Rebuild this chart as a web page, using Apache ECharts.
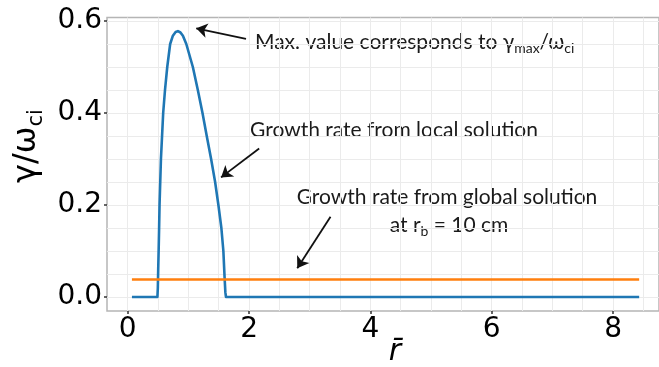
<!DOCTYPE html>
<html>
<head>
<meta charset="utf-8">
<script src="https://cdn.jsdelivr.net/npm/echarts@6/dist/echarts.min.js"></script>
<style>html,body{margin:0;padding:0;background:#fff}#c{width:659px;height:367px}</style>
</head>
<body>
<div id="c"></div>
<script>
// ---- data ----
const rLocal = [0.07, 0.49, 0.497, 0.503, 0.51, 0.518, 0.525, 0.548, 0.585, 0.615, 0.652, 0.70, 0.745, 0.79, 0.828, 0.87, 0.91, 0.966, 1.074, 1.156, 1.233, 1.303, 1.375, 1.441, 1.495, 1.544, 1.577, 1.598, 1.61, 1.62, 1.64, 8.43];
const gammaLocal = [0, 0, 0.02, 0.06, 0.1, 0.15, 0.2, 0.3, 0.4, 0.45, 0.5, 0.55, 0.568, 0.576, 0.578, 0.575, 0.568, 0.55, 0.5, 0.45, 0.4, 0.35, 0.3, 0.25, 0.2, 0.15, 0.1, 0.04, 0.01, 0, 0, 0];
const rGlobal = [0.07, 8.43];
const gammaGlobal = [0.038, 0.038];
const rTicks = [0, 2, 4, 6, 8];
const gammaTicks = [0, 0.2, 0.4, 0.6];
const rGridLines = [0, 0.5, 1, 1.5, 2, 2.5, 3, 3.5, 4, 4.5, 5, 5.5, 6, 6.5, 7, 7.5, 8, 8.5];
const gammaGridLines = [0, 0.05, 0.1, 0.15, 0.2, 0.25, 0.3, 0.35, 0.4, 0.45, 0.5, 0.55, 0.6];
// annotation arrows in data space: [tailR, tailGamma, tipR, tipGamma]
const arrowMax = [1.95, 0.561, 1.13, 0.584];
const arrowLocal = [2.167, 0.323, 1.539, 0.260];
const arrowGlobal = [3.343, 0.1746, 2.795, 0.0624];

const X_MIN = -0.341, X_MAX = 8.757, Y_MIN = -0.0304, Y_MAX = 0.6076;

const chart = echarts.init(document.getElementById('c'), null, {renderer: 'canvas'});
const tickFont = 'DejaVu Sans';
const annFont = 'Lato';

function arrow(a) {
  return [{coord: [a[0], a[1]]}, {coord: [a[2], a[3]]}];
}

const option = {
  animation: false,
  backgroundColor: '#fff',
  grid: {left: 107, top: 17.5, right: -3, bottom: 56, show: true, borderColor: '#b5b5b5', borderWidth: 1.5, backgroundColor: 'transparent'},
  xAxis: [
    {type: 'value', min: X_MIN, max: X_MAX, position: 'bottom',
     axisLine: {show: false, onZero: false},
     axisTick: {show: true, customValues: rTicks, length: 3, lineStyle: {color: '#333', width: 1.5}},
     axisLabel: {customValues: rTicks, fontSize: 28, color: '#000', fontFamily: tickFont, margin: 5, formatter: v => String(v)},
     splitLine: {show: false}},
    {type: 'value', min: X_MIN, max: X_MAX, position: 'top',
     axisLine: {show: false, onZero: false},
     axisTick: {show: false, customValues: rGridLines},
     axisLabel: {show: false},
     splitLine: {show: true, lineStyle: {color: '#ebebeb', width: 1}}}
  ],
  yAxis: [
    {type: 'value', min: Y_MIN, max: Y_MAX, position: 'left',
     axisLine: {show: false, onZero: false},
     axisTick: {show: true, customValues: gammaTicks, length: 3, lineStyle: {color: '#333', width: 1.5}},
     axisLabel: {customValues: gammaTicks, fontSize: 28, color: '#000', fontFamily: tickFont, margin: 5, formatter: v => v.toFixed(1)},
     splitLine: {show: false}},
    {type: 'value', min: Y_MIN, max: Y_MAX, position: 'right',
     axisLine: {show: false, onZero: false},
     axisTick: {show: false, customValues: gammaGridLines},
     axisLabel: {show: false},
     splitLine: {show: true, lineStyle: {color: '#ebebeb', width: 1}}}
  ],
  series: [
    {type: 'line', xAxisIndex: 0, yAxisIndex: 0, showSymbol: false, symbol: 'none',
     data: rLocal.map((r, i) => [r, gammaLocal[i]]),
     lineStyle: {color: '#1f77b4', width: 2.6, join: 'round'}, itemStyle: {color: '#1f77b4'}, z: 3,
     markLine: {silent: true, symbol: ['none', 'arrow'], symbolSize: 11, label: {show: false},
       lineStyle: {color: '#111', width: 1.8, type: 'solid'},
       itemStyle: {color: '#111'},
       emphasis: {disabled: true},
       data: [arrow(arrowMax), arrow(arrowLocal), arrow(arrowGlobal)]}},
    {type: 'line', xAxisIndex: 0, yAxisIndex: 0, showSymbol: false, symbol: 'none',
     data: rGlobal.map((r, i) => [r, gammaGlobal[i]]),
     lineStyle: {color: '#ff7f0e', width: 2.6}, itemStyle: {color: '#ff7f0e'}, z: 4}
  ],
  graphic: [
    {type: 'text', x: 255, y: 42, style: {
      text: '{a|Max. value corresponds to γ}{s|max}{a|/ω}{s|ci}', verticalAlign: 'middle',
      rich: {a: {fontSize: 21, fontFamily: annFont, fill: '#1a1a1a', lineHeight: 26},
             s: {fontSize: 14, fontFamily: annFont, fill: '#1a1a1a', lineHeight: 14, verticalAlign: 'bottom'}}}},
    {type: 'text', x: 250, y: 130, style: {text: 'Growth rate from local solution', fontSize: 21, fontFamily: annFont, fill: '#1a1a1a', verticalAlign: 'middle'}},
    {type: 'text', x: 447, y: 197, style: {text: 'Growth rate from global solution', fontSize: 21, fontFamily: annFont, fill: '#1a1a1a', align: 'center', verticalAlign: 'middle'}},
    {type: 'text', x: 449, y: 225, style: {
      text: '{a|at r}{s|b}{a| = 10 cm}', align: 'center', verticalAlign: 'middle',
      rich: {a: {fontSize: 21, fontFamily: annFont, fill: '#1a1a1a', lineHeight: 26},
             s: {fontSize: 14, fontFamily: annFont, fill: '#1a1a1a', lineHeight: 14, verticalAlign: 'bottom'}}}},
    {type: 'text', x: 27, y: 146, rotation: Math.PI / 2, style: {
      text: '{a|γ/ω}{s|ci}', align: 'center', verticalAlign: 'middle',
      rich: {a: {fontSize: 32, fontFamily: tickFont, fill: '#000', lineHeight: 40},
             s: {fontSize: 21, fontFamily: tickFont, fill: '#000', lineHeight: 21, verticalAlign: 'bottom'}}}},
    {type: 'text', x: 395, y: 352, style: {text: 'r\u0304', fontSize: 30, fontStyle: 'italic', fontFamily: tickFont, fill: '#000', align: 'center', verticalAlign: 'middle'}}
  ]
};
chart.setOption(option);
</script>
</body>
</html>
